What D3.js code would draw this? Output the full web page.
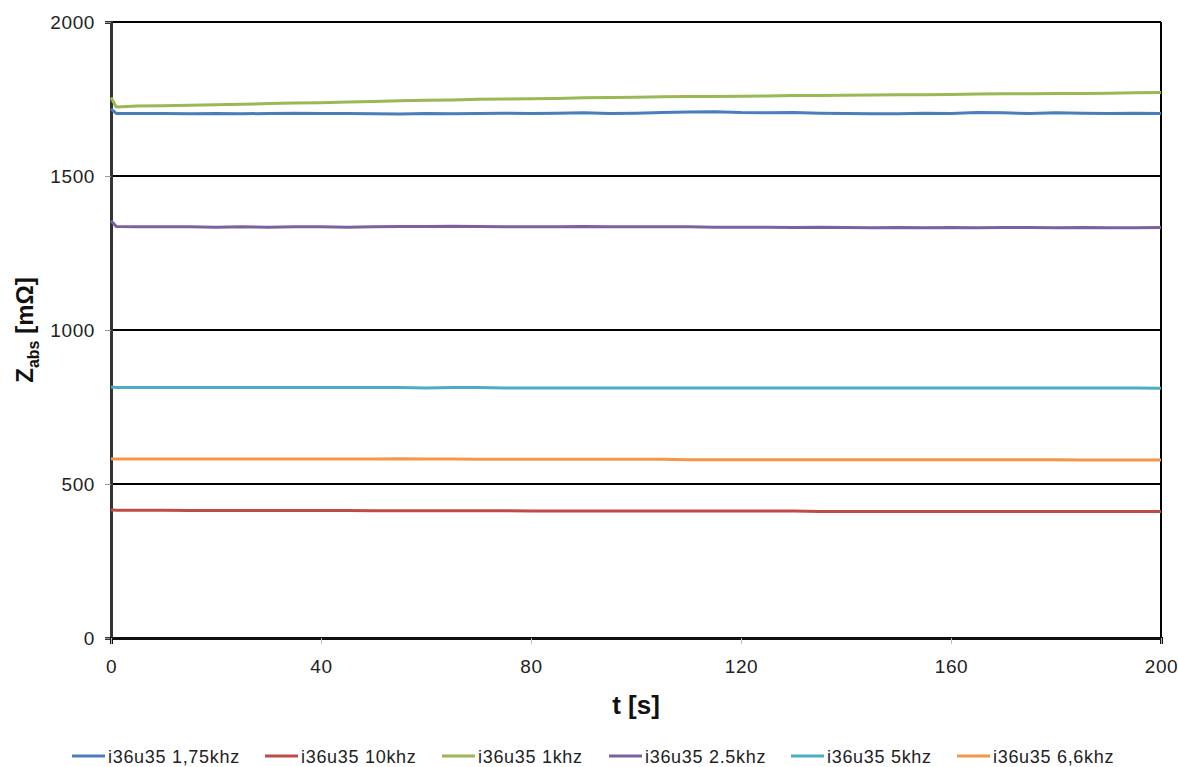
<!DOCTYPE html>
<html>
<head>
<meta charset="utf-8">
<script src="https://cdn.jsdelivr.net/npm/d3@7"></script>
<style>
  html, body { margin: 0; padding: 0; background: #ffffff; }
  svg { display: block; font-family: "Liberation Sans", Arial, sans-serif; }
</style>
</head>
<body>
<svg id="chart" width="1178" height="767"></svg>
<script>
// Time axis samples (s)
const times = [0, 1, 5, 10, 15, 20, 25, 30, 35, 40, 45, 50, 55, 60, 65, 70, 75, 80, 85, 90, 95, 100,
  105, 110, 115, 120, 125, 130, 135, 140, 145, 150, 155, 160, 165, 170, 175, 180, 185, 190, 195, 200];

// |Z| in mOhm for each excitation frequency
const z175k = [1718, 1703, 1703, 1703, 1702, 1703, 1702, 1703, 1704, 1703, 1703, 1702, 1701, 1703, 1702, 1703,
  1704, 1703, 1704, 1705, 1703, 1704, 1706, 1708, 1709, 1706, 1705, 1706, 1704, 1703, 1702, 1702,
  1704, 1703, 1706, 1705, 1703, 1705, 1704, 1703, 1704, 1703];
const z10k = [416, 415, 415, 415, 414, 414, 414, 414, 414, 414, 414, 413, 413, 413, 413, 413,
  413, 412, 412, 412, 412, 412, 412, 412, 412, 412, 412, 412, 411, 411, 411, 411,
  411, 411, 411, 411, 411, 411, 411, 411, 411, 411];
const z1k = [1755, 1724, 1727, 1728, 1730, 1731, 1733, 1735, 1737, 1738, 1740, 1742, 1744, 1746, 1747, 1749,
  1750, 1751, 1752, 1754, 1755, 1756, 1757, 1758, 1758, 1759, 1760, 1761, 1761, 1762, 1763, 1764,
  1764, 1765, 1766, 1767, 1767, 1768, 1768, 1769, 1770, 1771];
const z25k = [1355, 1336, 1335, 1335, 1335, 1334, 1335, 1334, 1335, 1335, 1334, 1335, 1336, 1336, 1337, 1336,
  1335, 1335, 1335, 1336, 1335, 1335, 1335, 1335, 1334, 1334, 1334, 1333, 1334, 1333, 1332, 1333,
  1332, 1333, 1332, 1333, 1333, 1332, 1333, 1332, 1332, 1333];
const z5k = [815, 813, 813, 813, 813, 813, 813, 813, 813, 813, 813, 813, 813, 812, 813, 813,
  812, 812, 812, 812, 812, 812, 812, 812, 812, 812, 812, 812, 812, 812, 812, 812,
  812, 812, 812, 812, 812, 812, 812, 812, 812, 811];
const z66k = [582, 581, 581, 581, 581, 581, 581, 581, 581, 581, 581, 581, 582, 581, 581, 580,
  580, 580, 580, 580, 580, 580, 580, 579, 579, 579, 579, 579, 579, 579, 579, 579,
  579, 579, 579, 579, 579, 579, 578, 578, 578, 578];

const seriesNames = ["i36u35 1,75khz", "i36u35 10khz", "i36u35 1khz", "i36u35 2.5khz", "i36u35 5khz", "i36u35 6,6khz"];
const seriesValues = [z175k, z10k, z1k, z25k, z5k, z66k];
const seriesColors = ["#4A7EBB", "#BE4B48", "#98B954", "#7D60A0", "#4BACC6", "#F79646"];

const xTicks = [0, 40, 80, 120, 160, 200];
const yTicks = [0, 500, 1000, 1500, 2000];

const svg = d3.select("#chart");
const plot = { left: 111, right: 1161, top: 22, bottom: 638 };

const x = d3.scaleLinear().domain([0, 200]).range([plot.left, plot.right]);
const y = d3.scaleLinear().domain([0, 2000]).range([plot.bottom, plot.top]);

// Horizontal gridlines
svg.append("g")
  .selectAll("line")
  .data(yTicks.filter(v => v > 0))
  .join("line")
  .attr("x1", plot.left).attr("x2", plot.right)
  .attr("y1", d => y(d)).attr("y2", d => y(d))
  .attr("stroke", "#000").attr("stroke-width", 2);

// Right border
svg.append("line")
  .attr("x1", plot.right).attr("x2", plot.right)
  .attr("y1", plot.top).attr("y2", plot.bottom)
  .attr("stroke", "#000").attr("stroke-width", 2);

// Y axis
const yAxis = svg.append("g")
  .attr("transform", `translate(${plot.left},0)`)
  .call(d3.axisLeft(y).tickValues(yTicks).tickSize(6).tickPadding(10).tickFormat(d3.format("d")));
yAxis.select(".domain").attr("stroke", "#333").attr("stroke-width", 3);
yAxis.selectAll(".tick line").attr("stroke", "#999").attr("stroke-width", 1);
yAxis.selectAll(".tick text").attr("font-size", 19).attr("fill", "#222")
  .attr("letter-spacing", 0.6)
  .attr("font-family", "Liberation Sans, Arial, sans-serif");

// X axis
const xAxis = svg.append("g")
  .attr("transform", `translate(0,${plot.bottom})`)
  .call(d3.axisBottom(x).tickValues(xTicks).tickSize(6).tickPadding(16).tickFormat(d3.format("d")));
xAxis.select(".domain").attr("stroke", "#111").attr("stroke-width", 3);
xAxis.selectAll(".tick line").attr("stroke", "#bbb").attr("stroke-width", 1);
xAxis.selectAll(".tick text").attr("font-size", 19).attr("fill", "#222")
  .attr("letter-spacing", 0.6)
  .attr("font-family", "Liberation Sans, Arial, sans-serif");

// Data lines
const line = d3.line()
  .x((d, i) => x(times[i]))
  .y(d => y(d));

svg.append("g")
  .selectAll("path")
  .data(seriesValues)
  .join("path")
  .attr("d", d => line(d))
  .attr("fill", "none")
  .attr("stroke", (d, i) => seriesColors[i])
  .attr("stroke-width", 3)
  .attr("stroke-linejoin", "round");

// Axis titles
svg.append("text")
  .attr("x", (plot.left + plot.right) / 2)
  .attr("y", 714)
  .attr("text-anchor", "middle")
  .attr("font-size", 26).attr("font-weight", "bold").attr("fill", "#111")
  .text("t [s]");

const yTitle = svg.append("text")
  .attr("transform", `translate(33,330) rotate(-90)`)
  .attr("text-anchor", "middle")
  .attr("font-size", 24).attr("font-weight", "bold").attr("fill", "#111");
yTitle.append("tspan").text("Z");
yTitle.append("tspan").attr("font-size", 16).attr("dy", 6).text("abs");
yTitle.append("tspan").attr("dy", -6).text(" [mΩ]");

// Legend
const legendX = [72, 265, 442, 609, 791, 957];
const legend = svg.append("g");
seriesNames.forEach((name, i) => {
  const g = legend.append("g").attr("transform", `translate(${legendX[i]},756)`);
  g.append("line").attr("x1", 0).attr("x2", 33).attr("y1", 0).attr("y2", 0)
    .attr("stroke", seriesColors[i]).attr("stroke-width", 3);
  g.append("text").attr("x", 36).attr("y", 7)
    .attr("font-size", 18).attr("letter-spacing", 0.7).attr("fill", "#222")
    .text(name);
});
</script>
</body>
</html>
